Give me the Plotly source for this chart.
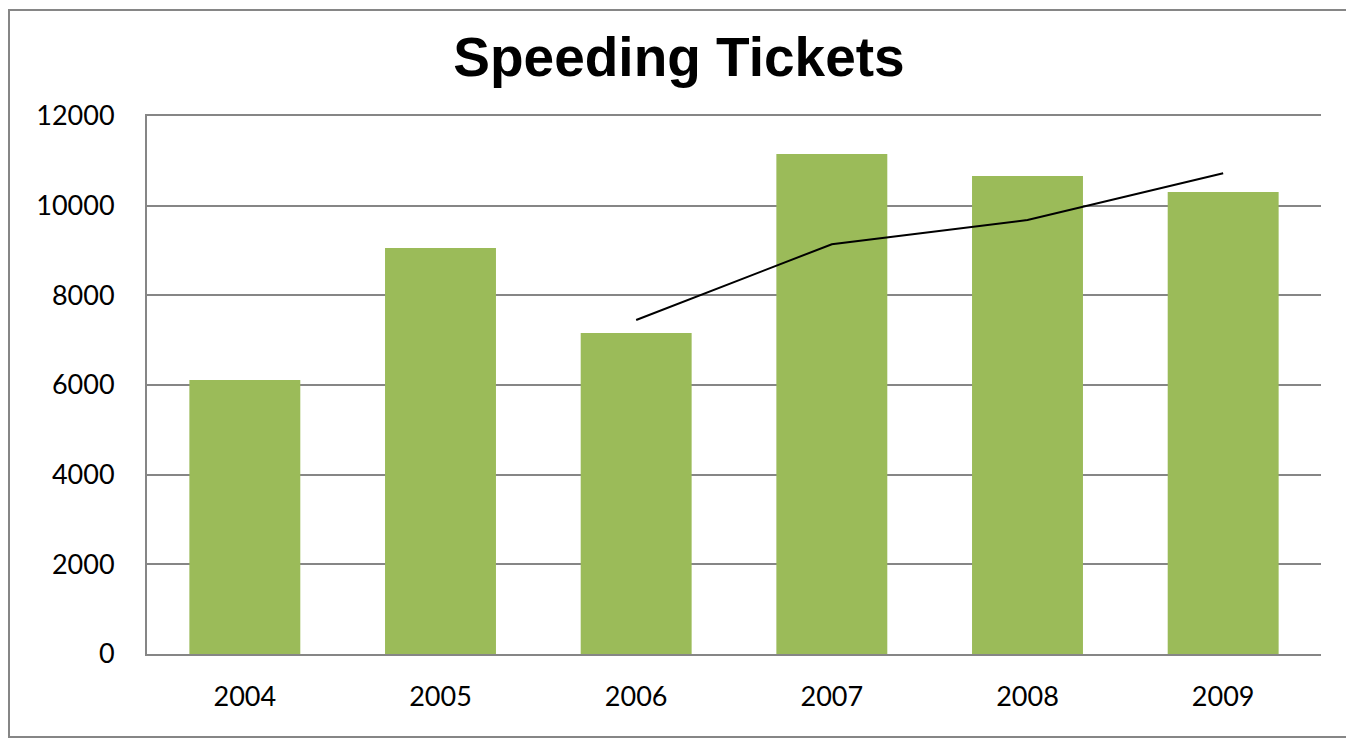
import plotly.graph_objects as go

years = ["2004", "2005", "2006", "2007", "2008", "2009"]
tickets = [6110, 9055, 7160, 11150, 10660, 10305]
trend_years = ["2006", "2007", "2008", "2009"]
trend_values = [7450, 9140, 9680, 10725]
y_ticks = [0, 2000, 4000, 6000, 8000, 10000, 12000]
y_tick_text = ["0", "2000", "4000", "6000", "8000", "10000", "12000"]

OFF = 8  # default page body margin
W, H = 1354 - OFF, 740 - OFF
L, R, T, B = 147 - OFF, 33, 116 - OFF, 86
pw, ph = W - L - R, H - T - B

def px(x):
    return (x - OFF - L) / pw

def py(y):
    return (H - B - (y - OFF)) / ph

fig = go.Figure()
fig.add_trace(go.Bar(x=years, y=tickets, marker=dict(color="#9BBB59", line=dict(width=0)),
                     showlegend=False))
fig.add_trace(go.Scatter(x=trend_years, y=trend_values, mode="lines",
                         line=dict(color="#000000", width=2), showlegend=False))

fig.update_layout(
    width=W, height=H,
    margin=dict(l=L, r=R, t=T, b=B),
    paper_bgcolor="white", plot_bgcolor="white",
    bargap=0.433,
    title=dict(text="<b>Speeding Tickets</b>", x=(679 - OFF) / W, xanchor="center",
               y=1 - (57 - OFF) / H, yanchor="middle",
               font=dict(family="Liberation Sans, Arial", size=55, color="#000000")),
    xaxis=dict(type="category", showgrid=False, showline=True, linecolor="#868686", linewidth=2,
               mirror=True,
               ticks="outside", ticklen=18, tickcolor="rgba(0,0,0,0)",
               tickfont=dict(family="Lato", size=27, color="#000000")),
    yaxis=dict(range=[0, 12000], tickvals=y_ticks, ticktext=y_tick_text,
               showgrid=True, gridcolor="#868686", gridwidth=1.5,
               showline=True, linecolor="#868686", linewidth=2, zeroline=False,
               ticks="outside", ticklen=25, tickcolor="rgba(0,0,0,0)",
               tickfont=dict(family="Lato", size=27, color="#000000")),
    shapes=[dict(type="rect", xref="paper", yref="paper",
                 x0=px(9), x1=px(1347), y0=py(737), y1=py(10),
                 line=dict(color="#868686", width=2), layer="below")],
)

fig.write_html("out.html")
